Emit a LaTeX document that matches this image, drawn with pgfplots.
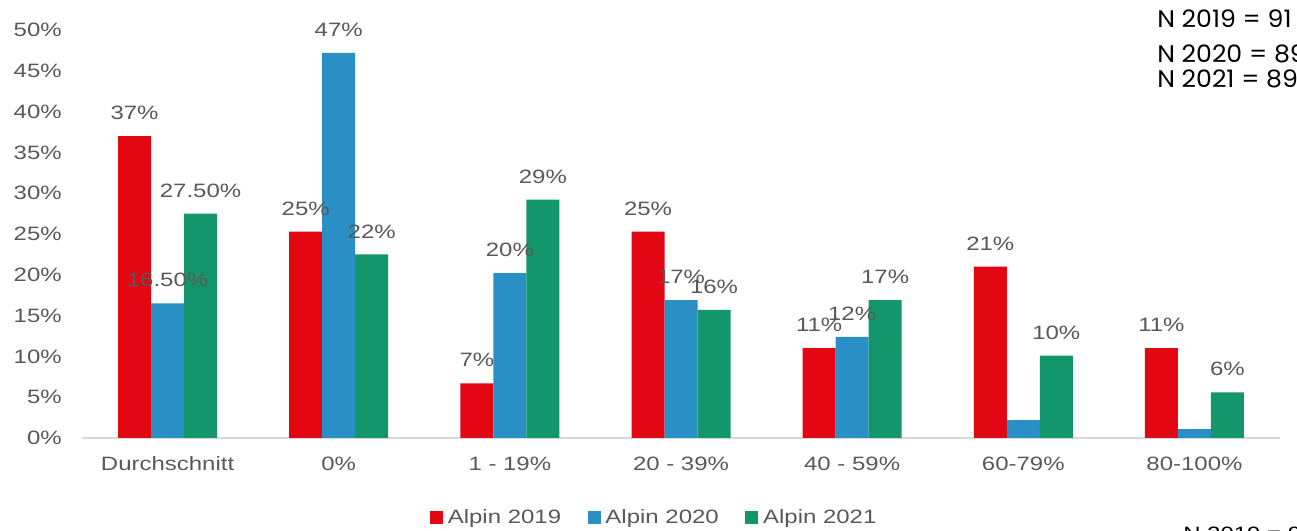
\documentclass[border=0pt]{standalone}
\usepackage{pgfplots}
\pgfplotsset{compat=1.18}
\usepackage{fontspec}
\setmainfont{Liberation Sans}[FakeStretch=1.24]
\newfontfamily\nfont{Poppins}[FakeStretch=1.05]
\definecolor{cred}{RGB}{227,6,19}
\definecolor{cblue}{RGB}{42,143,197}
\definecolor{cgreen}{RGB}{19,150,108}
\definecolor{tgray}{RGB}{89,89,89}
\definecolor{agray}{RGB}{217,217,217}
\pgfplotsset{sqlegend/.style={legend image code/.code={\fill[##1] (0pt,-4.9pt) rectangle (9.75pt,4.9pt);}}}
\newcommand{\fs}{\fontsize{14.5}{17}\selectfont}
\begin{document}
\begin{tikzpicture}
\useasboundingbox (-61.5pt,-69.75pt) rectangle (911.25pt,328.5pt);
\clip (-61.5pt,-69.75pt) rectangle (911.25pt,328.5pt);
\begin{axis}[
  at={(0pt,0pt)}, anchor=south west,
  scale only axis, width=898.5pt, height=306pt,
  xmin=-0.5, xmax=6.5, ymin=0, ymax=50,
  enlarge x limits=false, enlarge y limits=false,
  ybar=0pt, bar width=24.75pt,
  clip=false,
  axis x line*=bottom, axis y line*=left,
  x axis line style={draw=agray, line width=1pt},
  y axis line style={draw=none},
  major tick length=0pt,
  xtick={0,...,6},
  xticklabels={Durchschnitt, 0\%, 1 - 19\%, 20 - 39\%, 40 - 59\%, 60-79\%, 80-100\%},
  ytick={0,5,...,50},
  yticklabels={0\%,5\%,10\%,15\%,20\%,25\%,30\%,35\%,40\%,45\%,50\%},
  xticklabel style={font=\fs, text=tgray, anchor=north, inner sep=0pt, yshift=-14pt},
  yticklabel style={font=\fs, text=tgray, anchor=east, inner sep=0pt, xshift=-15pt},
  point meta=explicit symbolic,
  nodes near coords,
  nodes near coords style={font=\fs, text=tgray, anchor=south, inner sep=0pt, yshift=12pt},
  legend style={at={(0.478,-0.194)}, anchor=center, draw=none, fill=none,
    legend columns=3, font=\fs, text=tgray,
    /tikz/every even column/.append style={column sep=18pt},
    /tikz/every odd column/.append style={column sep=1.5pt}},
]
\addplot[fill=cred, draw=none, sqlegend] coordinates {
 (0,37.0) [37\%] (1,25.3) [25\%] (2,6.7) [7\%] (3,25.3) [25\%]
 (4,11.0) [11\%] (5,21.0) [21\%] (6,11.0) [11\%]};
\addplot[fill=cblue, draw=none, sqlegend] coordinates {
 (0,16.5) [16.50\%] (1,47.2) [47\%] (2,20.2) [20\%] (3,16.9) [17\%]
 (4,12.4) [12\%] (5,2.2) [{}] (6,1.1) [{}]};
\addplot[fill=cgreen, draw=none, sqlegend] coordinates {
 (0,27.5) [27.50\%] (1,22.5) [22\%] (2,29.2) [29\%] (3,15.7) [16\%]
 (4,16.9) [17\%] (5,10.1) [10\%] (6,5.6) [6\%]};
\legend{Alpin 2019, Alpin 2020, Alpin 2021}
\end{axis}
\node[anchor=base west, inner sep=0pt, font=\nfont\fontsize{18}{20}\selectfont] at (806.25pt,307.5pt) {N 2019 = 91};
\node[anchor=base west, inner sep=0pt, font=\nfont\fontsize{18}{20}\selectfont] at (806.25pt,281.25pt) {N 2020 = 89};
\node[anchor=base west, inner sep=0pt, font=\nfont\fontsize{18}{20}\selectfont] at (806.25pt,262.5pt) {N 2021 = 89};
\node[anchor=base west, inner sep=0pt, font=\fs] at (825.75pt,-77.25pt) {N 2019 = 91};
\end{tikzpicture}
\end{document}
